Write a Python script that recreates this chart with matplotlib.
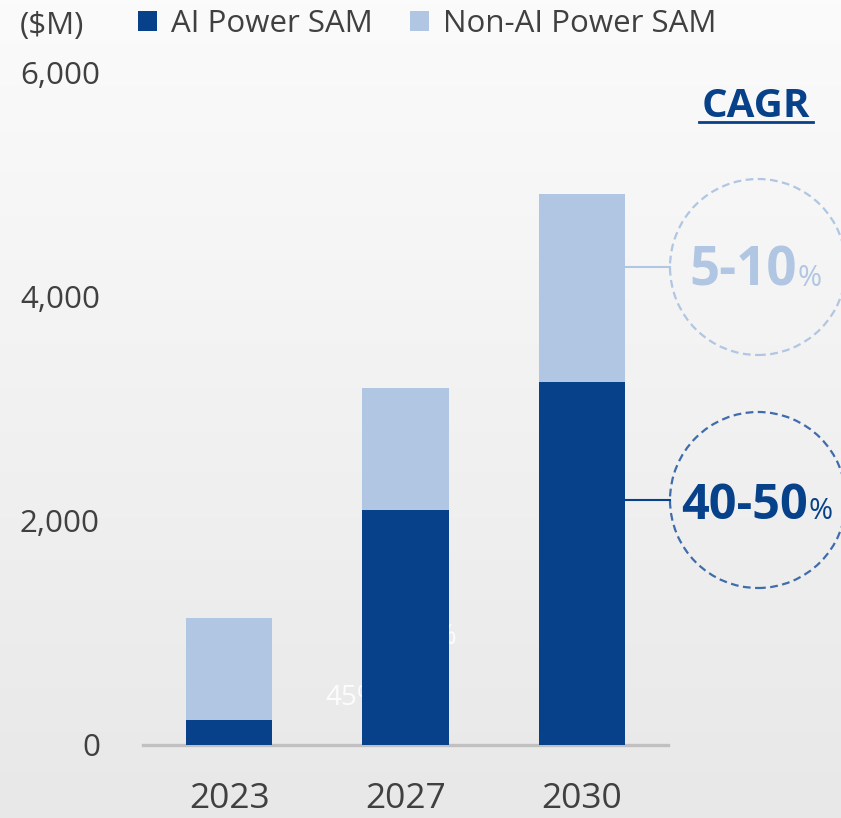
import numpy as np
import matplotlib
matplotlib.use("Agg")
import matplotlib.pyplot as plt
from matplotlib.patches import Circle

plt.rcParams['font.family'] = ['Open Sans', 'DejaVu Sans']

years = ['2023', '2027', '2030']
ai_sam = [220, 2100, 3240]
non_ai_sam = [910, 1090, 1680]
y_ticks = [0, 2000, 4000, 6000]
cagr_labels = ['5-10', '40-50']

dark = '#06418a'
light = '#b0c6e2'
mid = '#3f6cab'
txt = '#404040'

W, H = 841, 818
fig = plt.figure(figsize=(W / 100, H / 100), dpi=100)

# soft gray gradient background
bg = fig.add_axes([0, 0, 1, 1], zorder=-10)
grad = np.linspace(0, 1, 256).reshape(-1, 1)
bg.imshow(grad, aspect='auto', cmap=matplotlib.colors.LinearSegmentedColormap.from_list('g', ['#fbfbfb', '#e8e8e8']),
          extent=[0, 1, 0, 1])
bg.axis('off')

ax = fig.add_axes([143 / W, (H - 745) / H, 525 / W, 672 / H])
ax.set_facecolor('none')
x = np.arange(len(years))
w = 0.49
b1 = ax.bar(x, ai_sam, w, color=dark, label='AI Power SAM', zorder=3)
b2 = ax.bar(x, non_ai_sam, w, bottom=ai_sam, color=light, label='Non-AI Power SAM', zorder=3)

ax.set_xlim(-0.49, 2.49)
ax.set_ylim(0, 6000)
ax.set_xticks(x)
ax.set_xticklabels(years)
ax.set_yticks(y_ticks)
ax.set_yticklabels([f'{v:,}' for v in y_ticks])
ax.tick_params(axis='x', length=0, pad=27, labelsize=25.5, labelcolor=txt)
ax.tick_params(axis='y', length=0, pad=31, labelsize=22.5, labelcolor=txt)
for s in ['top', 'right', 'left']:
    ax.spines[s].set_visible(False)
ax.spines['bottom'].set_color('#c0c0c0')
ax.spines['bottom'].set_linewidth(2.4)
ax.spines['bottom'].set_zorder(2)

# faint leftover labels behind the 2027 bar
ax.text(0.545, 357, '45%', color='white', fontsize=20, ha='left', va='baseline', zorder=1, alpha=0.9)
ax.text(1.29, 902, '45%', color='white', fontsize=20, ha='right', va='baseline', zorder=1, alpha=0.9)

leg = fig.legend(handles=[b1, b2], loc='upper left', bbox_to_anchor=(138 / W, 1 - 9 / H), ncol=2,
                 frameon=False, fontsize=22.5, handlelength=0.6, handleheight=0.6,
                 handletextpad=0.45, columnspacing=1.2, borderpad=0, borderaxespad=0)
for t in leg.get_texts():
    t.set_color(txt)

# overlay in pixel coordinates for the CAGR callouts
ov = fig.add_axes([0, 0, 1, 1], zorder=5)
ov.set_xlim(0, W)
ov.set_ylim(0, H)
ov.axis('off')

ov.text(20, H - 26, '($M)', fontsize=22.5, color=txt, ha='left', va='center')

ov.text(756, H - 117, 'CAGR', fontsize=29, fontweight='bold', color=dark, ha='center', va='baseline')
ov.plot([699, 813], [H - 122, H - 122], color=dark, lw=2)

bar_right = ax.transData.transform((x[-1] + w / 2, 0))[0]
callouts = [
    (cagr_labels[0], 267, light, light, light, 38, 797),
    (cagr_labels[1], 500, mid, dark, dark, 35, 808),
]
for label, cy, ccol, lcol, tcol, fs, xr in callouts:
    cyp = H - cy
    ov.add_patch(Circle((758, cyp), 88, fill=False, ec=ccol, lw=1.6, ls=(0, (3.5, 2))))
    ov.plot([bar_right, 670], [cyp, cyp], color=lcol, lw=1.5)
    base = cyp - 19
    ov.text(xr, base, label, fontsize=fs, fontweight='bold', color=tcol, ha='right', va='baseline')
    ov.text(xr + 1, base, '%', fontsize=21, color=tcol, ha='left', va='baseline')

fig.savefig('out.png', dpi=100)
